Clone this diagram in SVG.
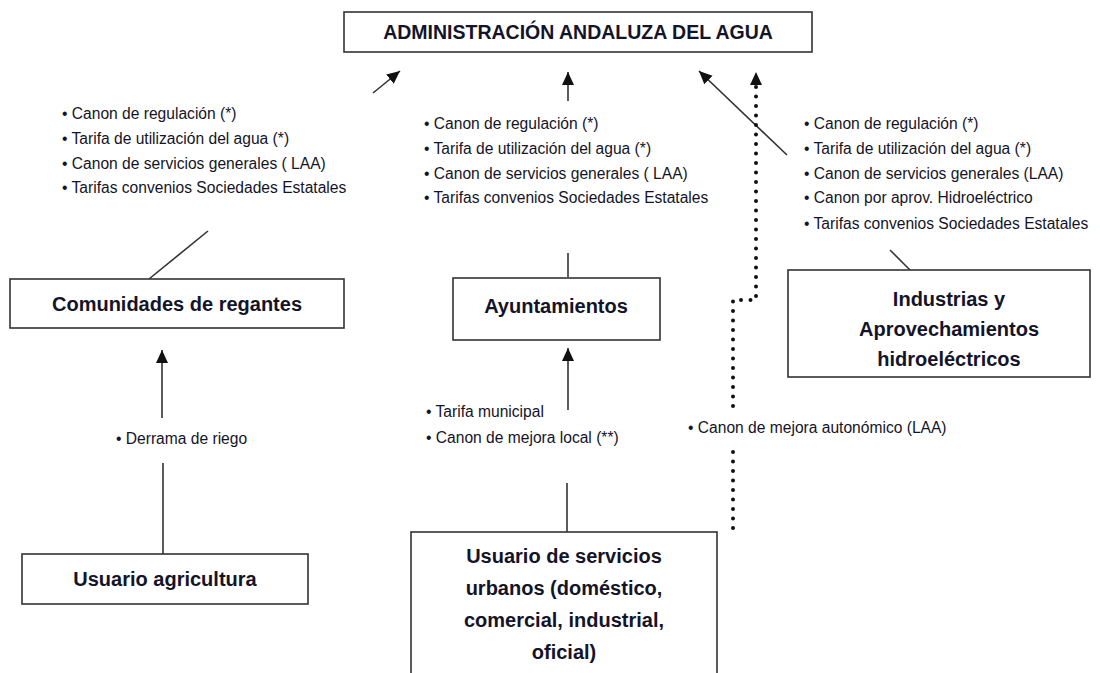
<svg xmlns="http://www.w3.org/2000/svg" width="1100" height="673" viewBox="0 0 1100 673">
<style>
.box{fill:#fff;stroke:#333;stroke-width:1.6}
.t{font-family:"Liberation Sans",Arial,sans-serif;font-weight:bold;font-size:20px;fill:#141428;text-anchor:middle}
.l{font-family:"Liberation Sans",Arial,sans-serif;font-size:15.6px;fill:#141428}
.c{stroke:#333;stroke-width:1.6;fill:none}
.d{stroke:#111;stroke-width:4;stroke-dasharray:0 9.5;stroke-linecap:round;fill:none}
</style>
<defs>
<marker id="ah" markerUnits="userSpaceOnUse" markerWidth="14" markerHeight="14" viewBox="0 0 14 14" refX="13" refY="7" orient="auto">
<path d="M0,1 L13,7 L0,13 Z" fill="#111" stroke="none"/>
</marker>
</defs>
<rect width="1100" height="673" fill="#fff"/>
<g id="connectors">
<line class="c" x1="373" y1="93" x2="400" y2="71" marker-end="url(#ah)"/>
<line class="c" x1="568" y1="101" x2="568" y2="72" marker-end="url(#ah)"/>
<line class="c" x1="787" y1="155" x2="699" y2="71" marker-end="url(#ah)"/>
<line class="c" x1="149" y1="279" x2="208" y2="231"/>
<line class="c" x1="162" y1="418" x2="162" y2="350" marker-end="url(#ah)"/>
<line class="c" x1="163" y1="463" x2="163" y2="554"/>
<line class="c" x1="568" y1="253" x2="568" y2="277"/>
<line class="c" x1="568" y1="410" x2="568" y2="348" marker-end="url(#ah)"/>
<line class="c" x1="567" y1="483" x2="567" y2="532"/>
<line class="c" x1="890" y1="250" x2="910" y2="270"/>
<path class="d" d="M733,406 V300 H756 V82"/>
<path d="M750,85 L756,72 L762,85 Z" fill="#111"/>
<path class="d" d="M733,452 V530"/>
</g>
<g id="n-admin">
<rect class="box" x="344" y="12" width="468" height="40"/>
<text class="t" x="578" y="39" style="font-size:19.5px">ADMINISTRACIÓN ANDALUZA DEL AGUA</text>
</g>
<g id="list-left">
<text class="l" x="62" y="119">• Canon de regulación (*)</text>
<text class="l" x="62" y="144">• Tarifa de utilización del agua (*)</text>
<text class="l" x="62" y="169">• Canon de servicios generales ( LAA)</text>
<text class="l" x="62" y="193">• Tarifas convenios Sociedades Estatales</text>
</g>
<g id="list-mid">
<text class="l" x="424" y="129">• Canon de regulación (*)</text>
<text class="l" x="424" y="154">• Tarifa de utilización del agua (*)</text>
<text class="l" x="424" y="179">• Canon de servicios generales ( LAA)</text>
<text class="l" x="424" y="203">• Tarifas convenios Sociedades Estatales</text>
</g>
<g id="list-right">
<text class="l" x="804" y="129">• Canon de regulación (*)</text>
<text class="l" x="804" y="154">• Tarifa de utilización del agua (*)</text>
<text class="l" x="804" y="179">• Canon de servicios generales (LAA)</text>
<text class="l" x="804" y="203">• Canon por aprov. Hidroeléctrico</text>
<text class="l" x="804" y="229">• Tarifas convenios Sociedades Estatales</text>
</g>
<g id="n-comunidades">
<rect class="box" x="10" y="279" width="334" height="49"/>
<text class="t" x="177" y="311">Comunidades de regantes</text>
</g>
<g id="n-ayuntamientos">
<rect class="box" x="453" y="278" width="207" height="62"/>
<text class="t" x="556" y="313">Ayuntamientos</text>
</g>
<g id="n-industrias">
<rect class="box" x="788" y="270" width="302" height="107"/>
<text class="t" x="949" y="306">Industrias y</text>
<text class="t" x="949" y="336">Aprovechamientos</text>
<text class="t" x="949" y="366">hidroeléctricos</text>
</g>
<g id="label-derrama">
<text class="l" x="116" y="444">• Derrama de riego</text>
</g>
<g id="label-ayto">
<text class="l" x="426" y="417">• Tarifa municipal</text>
<text class="l" x="426" y="443">• Canon de mejora local (**)</text>
</g>
<g id="label-autonomico">
<text class="l" x="688" y="433">• Canon de mejora autonómico (LAA)</text>
</g>
<g id="n-agricultura">
<rect class="box" x="22" y="554" width="286" height="50"/>
<text class="t" x="165" y="586">Usuario agricultura</text>
</g>
<g id="n-urbanos">
<rect class="box" x="411" y="532" width="306" height="150"/>
<text class="t" x="564" y="563">Usuario de servicios</text>
<text class="t" x="564" y="595">urbanos (doméstico,</text>
<text class="t" x="564" y="627">comercial, industrial,</text>
<text class="t" x="564" y="659">oficial)</text>
</g>
</svg>
